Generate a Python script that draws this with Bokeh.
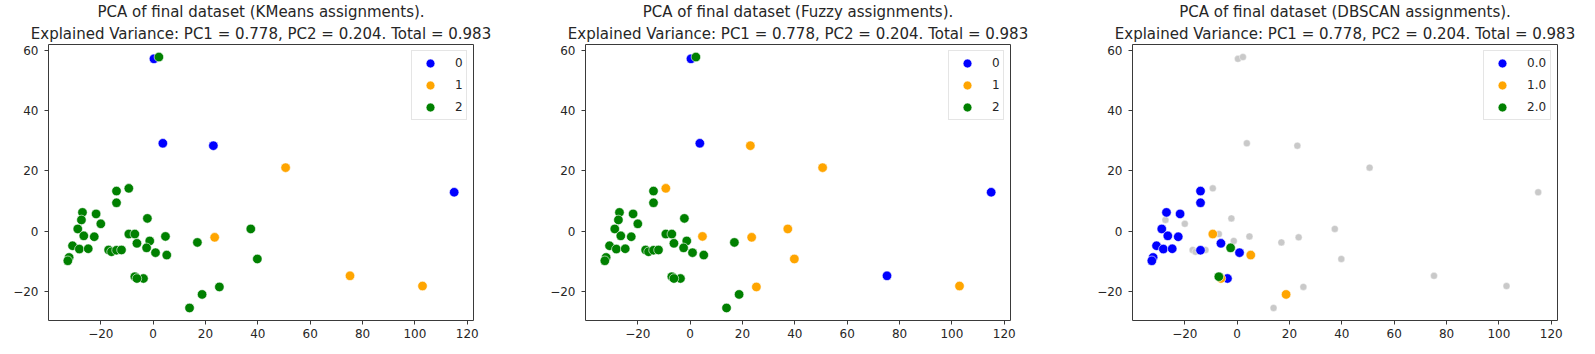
from bokeh.plotting import figure
from bokeh.layouts import row
from bokeh.models import FixedTicker, Title
from bokeh.embed import file_html
from bokeh.resources import INLINE

# ---- data ----
pc1 = [0.3, 2.2, 3.7, 23.0, 50.6, 115.0, 23.5, 75.2, 102.9,
       -9.3, -14.0, -14.0, -27.0, -21.8, -27.4, -20.0, -2.2, -28.8, -26.5,
       -22.5, -9.3, -7.0, -6.2, -1.3, -2.5, 0.9, 4.7, 5.2, -30.8,
       -28.2, -24.8, -17.0, -15.9, -14.0, -12.1, -32.1, -32.6, -7.0, -3.7,
       -6.2, 16.9, 13.9, 18.7, 25.3, 37.3, 39.8]
pc2 = [57.3, 57.9, 29.2, 28.4, 21.1, 12.9, -2.1, -14.9, -18.3,
       14.2, 13.3, 9.4, 6.2, 5.7, 3.7, 2.4, 4.2, 0.7, -1.6,
       -1.9, -1.0, -1.0, -4.1, -3.3, -5.6, -7.2, -1.8, -8.0, -4.9,
       -6.0, -5.9, -6.3, -6.9, -6.4, -6.3, -8.8, -9.9, -15.2, -15.8,
       -15.8, -3.8, -25.6, -21.1, -18.6, 0.7, -9.3]
kmeans_labels = [0, 2, 0, 0, 1, 0, 1, 1, 1,
                 2, 2, 2, 2, 2, 2, 2, 2, 2, 2,
                 2, 2, 2, 2, 2, 2, 2, 2, 2, 2,
                 2, 2, 2, 2, 2, 2, 2, 2, 2, 2,
                 2, 2, 2, 2, 2, 2, 2]
fuzzy_labels = [0, 2, 0, 1, 1, 0, 1, 0, 1,
                1, 2, 2, 2, 2, 2, 2, 2, 2, 2,
                2, 2, 2, 2, 2, 2, 2, 1, 2, 2,
                2, 2, 2, 2, 2, 2, 2, 2, 2, 2,
                2, 2, 2, 2, 1, 1, 1]
dbscan_labels = [-1, -1, -1, -1, -1, -1, -1, -1, -1,
                 -1, 0, 0, 0, 0, -1, -1, -1, 0, 0,
                 0, 1, -1, 0, -1, 2, 0, -1, 1, 0,
                 0, 0, -1, -1, 0, -1, 0, 0, 2, 0,
                 1, -1, -1, 1, -1, -1, -1]
int_names = ["0", "1", "2"]
float_names = ["0.0", "1.0", "2.0"]
x_ticks = [-20, 0, 20, 40, 60, 80, 100, 120]
y_ticks = [-20, 0, 20, 40, 60]
methods = ["KMeans", "Fuzzy", "DBSCAN"]
subtitle = "Explained Variance: PC1 = 0.778, PC2 = 0.204. Total = 0.983"

# ---- style ----
FONT = "DejaVu Sans"
TITLE_SIZE = "15px"
TICK_SIZE = "12px"
colors = ["blue", "orange", "green"]
noise_color = "#c9c9c9"
TXT = "#262626"

xspan = max(pc1) - min(pc1)
yspan = max(pc2) - min(pc2)
xr = (min(pc1) - 0.05 * xspan, max(pc1) + 0.05 * xspan)
yr = (min(pc2) - 0.05 * yspan, max(pc2) + 0.05 * yspan)


def minus(v):
    return str(v).replace("-", "\u2212")


def panel(method, labels, names, bl, br, lw):
    p = figure(frame_width=425, frame_height=276, x_range=xr, y_range=yr,
               output_backend="svg", toolbar_location=None, title=None,
               min_border_left=bl, min_border_right=br,
               min_border_top=42, min_border_bottom=30)
    line2 = Title(text=subtitle, align="center", text_font=FONT,
                  text_font_size=TITLE_SIZE, text_font_style="normal",
                  text_color=TXT, standoff=4)
    line1 = Title(text="PCA of final dataset (%s assignments)." % method,
                  align="center", text_font=FONT, text_font_size=TITLE_SIZE,
                  text_font_style="normal", text_color=TXT, standoff=0)
    p.add_layout(line2, "above")
    p.add_layout(line1, "above")
    p.xgrid.visible = False
    p.ygrid.visible = False
    p.outline_line_color = "#3a3a3a"
    p.outline_line_width = 1
    p.outline_line_alpha = 1
    for ax, ticks in ((p.xaxis, x_ticks), (p.yaxis, y_ticks)):
        ax.ticker = FixedTicker(ticks=ticks)
        ax.major_label_overrides = {t: minus(t) for t in ticks}
        ax.axis_line_color = None
        ax.major_tick_line_color = "#3a3a3a"
        ax.major_tick_out = 4
        ax.major_tick_in = 0
        ax.minor_tick_line_color = None
        ax.major_label_text_font = FONT
        ax.major_label_text_font_size = TICK_SIZE
        ax.major_label_text_color = TXT
    p.xaxis.major_label_standoff = 4
    p.yaxis.major_label_standoff = 6

    # noise first (DBSCAN), drawn underneath
    nx = [x for x, l in zip(pc1, labels) if l == -1]
    ny = [y for y, l in zip(pc2, labels) if l == -1]
    if nx:
        p.scatter(nx, ny, size=7, fill_color=noise_color, line_color="white",
                  line_width=0.4)
    for k, name in enumerate(names):
        cx = [x for x, l in zip(pc1, labels) if l == k]
        cy = [y for y, l in zip(pc2, labels) if l == k]
        p.scatter(cx, cy, size=9.5, fill_color=colors[k], line_color="white",
                  line_width=0.6, legend_label=name)

    lg = p.legend[0]
    lg.location = "top_right"
    lg.margin = 6
    lg.padding = 1
    lg.spacing = -4
    lg.glyph_width = 34
    lg.glyph_height = 22
    lg.label_height = 22
    lg.label_width = lw
    lg.label_standoff = 8
    lg.label_text_font = FONT
    lg.label_text_font_size = TICK_SIZE
    lg.label_text_color = TXT
    lg.border_line_color = "#cccccc"
    lg.border_line_width = 1
    lg.background_fill_color = "white"
    lg.background_fill_alpha = 0.8
    return p


p1 = panel(methods[0], kmeans_labels, int_names, 48, 72, 10)
p2 = panel(methods[1], fuzzy_labels, int_names, 40, 82, 10)
p3 = panel(methods[2], dbscan_labels, float_names, 40, 30, 22)

layout = row(p1, p2, p3)
open("out.html", "w").write(file_html(layout, INLINE))
